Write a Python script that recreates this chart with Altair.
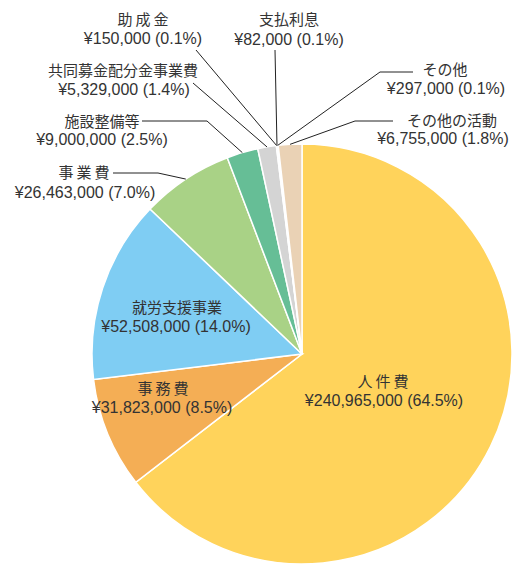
import numpy as np
import pandas as pd
import altair as alt

# ---- data ----
names = ["人件費", "事務費", "就労支援事業", "事業費", "施設整備等",
         "共同募金配分金事業費", "助成金", "支払利息", "その他", "その他の活動"]
values = [240965000, 31823000, 52508000, 26463000, 9000000,
          5329000, 150000, 82000, 297000, 6755000]
pcts = ["64.5%", "8.5%", "14.0%", "7.0%", "2.5%", "1.4%", "0.1%", "0.1%", "0.1%", "1.8%"]
colors = ["#FFD35B", "#F4AE55", "#7FCDF3", "#A9D286", "#66BE96",
          "#D4D4D4", "#C9B3DA", "#6FA8DC", "#9DC3E6", "#EAD2B5"]

# ---- layout ----
CX, CY, R = 302, 354, 210
name_x = [383, 163, 177, 84, 102, 123, 143, 289, 445, 452]
name_y = [382, 389, 308, 173, 122, 71, 20, 20, 70, 121]
val_x = [384, 162, 176, 85, 102, 124, 143, 289, 446, 443]
val_y = [401, 408, 327, 193, 140, 90, 39, 40, 89, 139]
spaced = [True, True, False, True, False, False, True, False, False, False]
# label-side points of leader lines (None = label inside slice)
leader = [None, None, None,
          [(113, 173), (158, 173)],
          [(142, 121), (207, 121)],
          [(193, 83)],
          [(196, 50)],
          [(275, 50)],
          [(413, 72), (380, 72)],
          [(393, 121), (355, 121)]]

vals = np.array(values, dtype=float)
total = vals.sum()
cum = np.cumsum(vals)
start = (cum - vals) / total * 2 * np.pi
end = cum / total * 2 * np.pi
mid = (start + end) / 2

pie_df = pd.DataFrame({"name": names, "value": values, "order": list(range(len(names)))})

line_rows = []
for i, pts in enumerate(leader):
    if pts is None:
        continue
    seq = 0
    for (x, y) in pts:
        line_rows.append({"lid": names[i], "seq": seq, "px": x, "py": y})
        seq += 1
    line_rows.append({"lid": names[i], "seq": seq,
                      "px": CX + R * np.sin(mid[i]), "py": CY - R * np.cos(mid[i])})
line_df = pd.DataFrame(line_rows)

disp = ["\u2009".join(list(n)) if s else n for n, s in zip(names, spaced)]
lab_df = pd.DataFrame({
    "ntext": disp,
    "vtext": [f"¥{v:,} ({p})" for v, p in zip(values, pcts)],
    "nx": name_x, "ny": name_y, "vx": val_x, "vy": val_y,
})

arcs = alt.Chart(pie_df).mark_arc(outerRadius=R, stroke="white", strokeWidth=1.5).encode(
    theta=alt.Theta("value:Q", stack=True),
    order=alt.Order("order:Q", sort="ascending"),
    color=alt.Color("name:N", scale=alt.Scale(domain=names, range=colors), legend=None),
    x=alt.value(CX),
    y=alt.value(CY),
)

lines = alt.Chart(line_df).mark_line(color="#222222", strokeWidth=1).encode(
    x=alt.X("px:Q", scale=None, axis=None),
    y=alt.Y("py:Q", scale=None, axis=None),
    detail="lid:N",
    order="seq:Q",
)

ntexts = alt.Chart(lab_df).mark_text(
    font="Noto Sans CJK JP", fontSize=15, color="#333333", align="center", baseline="middle"
).encode(
    x=alt.X("nx:Q", scale=None, axis=None),
    y=alt.Y("ny:Q", scale=None, axis=None),
    text="ntext:N",
)
vtexts = alt.Chart(lab_df).mark_text(
    font="Liberation Sans", fontSize=16, color="#333333", align="center", baseline="middle"
).encode(
    x=alt.X("vx:Q", scale=None, axis=None),
    y=alt.Y("vy:Q", scale=None, axis=None),
    text="vtext:N",
)

chart = alt.layer(arcs, lines, ntexts, vtexts).properties(
    width=515, height=565, padding=0,
    autosize=alt.AutoSizeParams(type="none"),
).configure_view(stroke=None)

chart.save("out.html", embed_options={"renderer": "svg", "actions": False})
